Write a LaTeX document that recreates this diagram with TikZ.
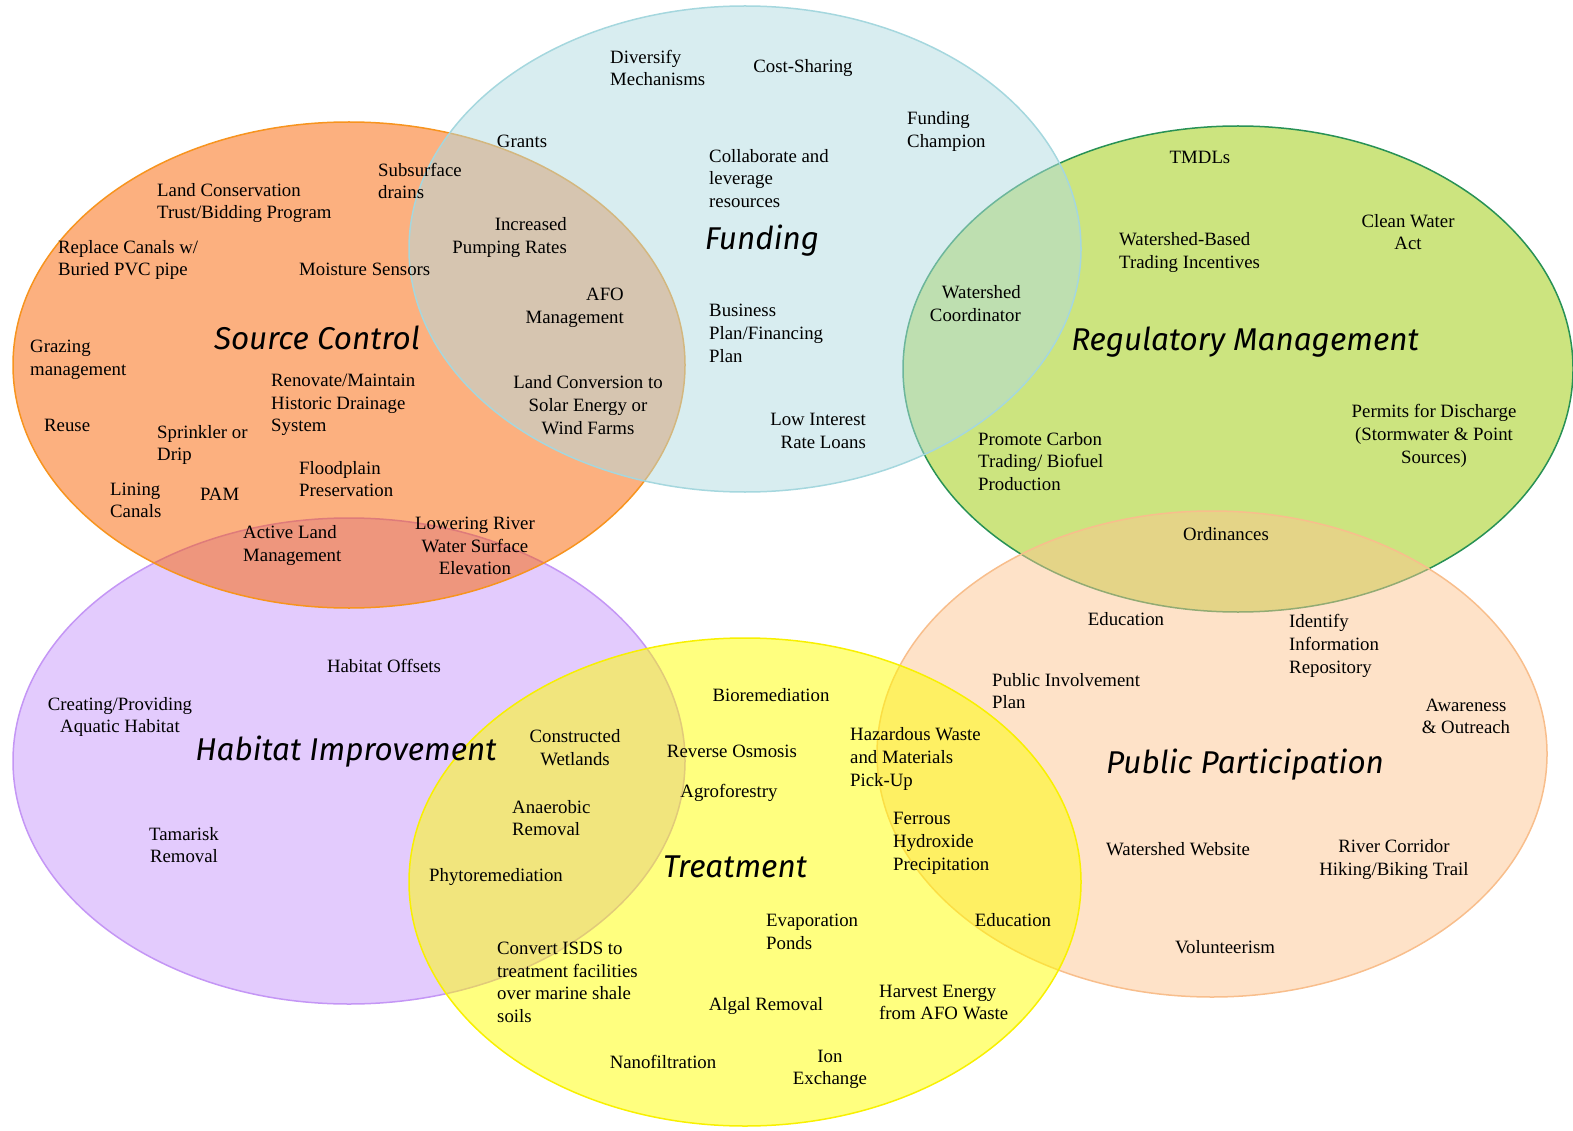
\documentclass[tikz,border=0pt]{standalone}
\usepackage{fontspec}
\setmainfont{Liberation Serif}
\newfontfamily\hand{Fira Sans}
\definecolor{orangeF}{RGB}{249,97,0}
\definecolor{orangeD}{RGB}{247,148,30}
\definecolor{blueF}{RGB}{177,219,225}
\definecolor{blueD}{RGB}{165,215,222}
\definecolor{greenF}{RGB}{153,201,0}
\definecolor{greenD}{RGB}{40,145,85}
\definecolor{purpleF}{RGB}{199,151,251}
\definecolor{purpleD}{RGB}{196,150,245}
\definecolor{yellowF}{RGB}{255,255,0}
\definecolor{yellowD}{RGB}{248,240,0}
\definecolor{peachF}{RGB}{253,197,145}
\definecolor{peachD}{RGB}{248,190,140}
\tikzset{
  venn/.style={line width=1.5pt, fill opacity=0.5},
  item/.style={inner sep=0pt, font=\fontsize{18.8}{22.7}\selectfont},
  lt/.style={item, align=left},
  ct/.style={item, align=center},
  rt/.style={item, align=right},
  head/.style={inner sep=0pt, font=\hand\itshape\fontsize{31.5}{36}\selectfont}
}
\begin{document}
\begin{tikzpicture}[x=1pt,y=-1pt]
\useasboundingbox (0,0) rectangle (1573,1131);
% circles (draw order gives the overlap colours)
\path[venn, fill=purpleF, draw=purpleD] (349,761) ellipse [x radius=336, y radius=243];
\path[venn, fill=orangeF, draw=orangeD] (349,365) ellipse [x radius=336, y radius=243];
\path[venn, fill=greenF, draw=greenD] (1238,369) ellipse [x radius=335, y radius=243];
\path[venn, fill=blueF, draw=blueD] (745,249) ellipse [x radius=336, y radius=243];
\path[venn, fill=peachF, draw=peachD] (1212,754) ellipse [x radius=335, y radius=243];
\path[venn, fill=yellowF, draw=yellowD] (745,882) ellipse [x radius=336, y radius=244];

\begin{scope}[yshift=-2.5pt]
% headings
\node[head] (hsrc) at (317,335) {Source Control};
\node[head] (hfund) at (762,238) {Funding};
\node[head] (hreg) at (1245,340) {Regulatory Management};
\node[head] (hhab) at (346,749) {Habitat Improvement};
\node[head] (htreat) at (735,864) {Treatment};
\node[head] (hpub) at (1245,762) {Public Participation};

% Funding
\node[lt, anchor=west] (f1) at (610,65.5) {Diversify\\Mechanisms};
\node[ct] (f2) at (803,66) {Cost-Sharing};
\node[ct] (f3) at (522,139) {Grants};
\node[lt, anchor=west] (f4) at (907,129) {Funding\\Champion};
\node[lt, anchor=west] (f5) at (709,176) {Collaborate and\\leverage\\resources};
\node[lt, anchor=west] (f6) at (709,331) {Business\\Plan/Financing\\Plan};
\node[rt, anchor=east] (f7) at (866,428.5) {Low Interest\\Rate Loans};

% Source / Funding overlap
\node[rt, anchor=east] (sf1) at (567,235) {Increased\\Pumping Rates};
\node[rt, anchor=east] (sf2) at (624,305.5) {AFO\\Management};
\node[ct] (sf3) at (588,402.5) {Land Conversion to\\Solar Energy or\\Wind Farms};

% Source Control
\node[lt, anchor=west] (s1) at (378,178.5) {Subsurface\\drains};
\node[lt, anchor=west] (s2) at (157,200.5) {Land Conservation\\Trust/Bidding Program};
\node[lt, anchor=west] (s3) at (58,257.5) {Replace Canals w/\\Buried PVC pipe};
\node[lt, anchor=west] (s4) at (299,267) {Moisture Sensors};
\node[lt, anchor=west] (s5) at (30,357) {Grazing\\management};
\node[lt, anchor=west] (s6) at (271,402.5) {Renovate/Maintain\\Historic Drainage\\System};
\node[lt, anchor=west] (s7) at (44,423) {Reuse};
\node[lt, anchor=west] (s8) at (157,442.5) {Sprinkler or\\Drip};
\node[lt, anchor=west] (s9) at (299,476.5) {Floodplain\\Preservation};
\node[lt, anchor=west] (s10) at (110,498) {Lining\\Canals};
\node[lt, anchor=west] (s11) at (200,492) {PAM};
\node[lt, anchor=west] (s12) at (243,543) {Active Land\\Management};
\node[ct] (s13) at (475,543.5) {Lowering River\\Water Surface\\Elevation};

% Regulatory Management
\node[ct] (r1) at (1200,155) {TMDLs};
\node[ct] (r2) at (1408,229.5) {Clean Water\\Act};
\node[lt, anchor=west] (r3) at (1119,250) {Watershed-Based\\Trading Incentives};
\node[rt, anchor=east] (r4) at (1021,301) {Watershed\\Coordinator};
\node[ct] (r5) at (1434,433.5) {Permits for Discharge\\(Stormwater \& Point\\Sources)};
\node[lt, anchor=west] (r6) at (978,459) {Promote Carbon\\Trading/ Biofuel\\Production};
\node[ct] (r7) at (1226,532) {Ordinances};

% Public Participation
\node[ct] (p1) at (1126,617) {Education};
\node[lt, anchor=west] (p2) at (1289,643.5) {Identify\\Information\\Repository};
\node[lt, anchor=west] (p3) at (992,688.5) {Public Involvement\\Plan};
\node[ct] (p4) at (1466,714) {Awareness\\\& Outreach};
\node[ct] (p5) at (1178,847) {Watershed Website};
\node[ct] (p6) at (1394,857) {River Corridor\\Hiking/Biking Trail};
\node[ct] (p7) at (1225,945) {Volunteerism};

% Public / Treatment overlap
\node[lt, anchor=west] (pt1) at (850,756.5) {Hazardous Waste\\and Materials\\Pick-Up};
\node[lt, anchor=west] (pt2) at (893,841) {Ferrous\\Hydroxide\\Precipitation};
\node[ct] (pt3) at (1013,918) {Education};

% Habitat Improvement
\node[ct] (h1) at (384,663) {Habitat Offsets};
\node[ct] (h2) at (120,714.5) {Creating/Providing\\Aquatic Habitat};
\node[ct] (h3) at (184,842.5) {Tamarisk\\Removal};

% Habitat / Treatment overlap
\node[ct] (ht1) at (575,745) {Constructed\\Wetlands};
\node[lt, anchor=west] (ht2) at (512,815.5) {Anaerobic\\Removal};
\node[lt, anchor=west] (ht3) at (429,874) {Phytoremediation};
\node[lt, anchor=west] (ht4) at (497,980) {Convert ISDS to\\treatment facilities\\over marine shale\\soils};

% Treatment
\node[ct] (t1) at (771,693) {Bioremediation};
\node[ct] (t2) at (732,749) {Reverse Osmosis};
\node[ct] (t3) at (729,790) {Agroforestry};
\node[lt, anchor=west] (t4) at (766,929.5) {Evaporation\\Ponds};
\node[ct] (t5) at (766,1003) {Algal Removal};
\node[lt, anchor=west] (t6) at (879,1000) {Harvest Energy\\from AFO Waste};
\node[ct] (t7) at (663,1059) {Nanofiltration};
\node[ct] (t8) at (830,1067) {Ion\\Exchange};
\end{scope}
\end{tikzpicture}
\end{document}
